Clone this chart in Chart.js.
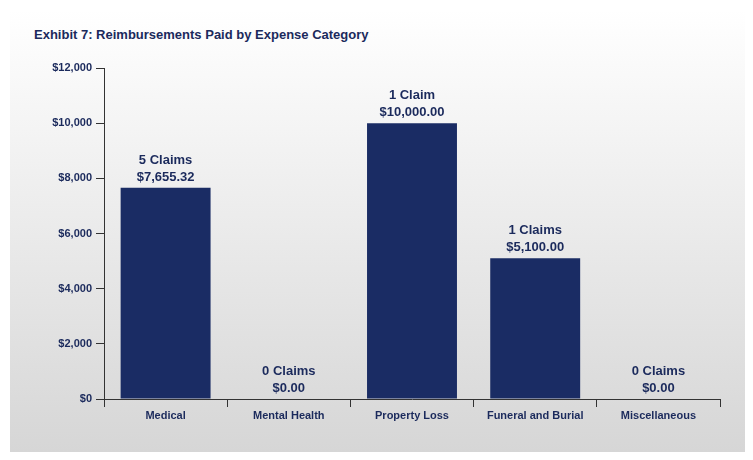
<!DOCTYPE html>
<html><head><meta charset="utf-8">
<script src="https://cdn.jsdelivr.net/npm/chart.js@4"></script>
<style>
html,body{margin:0;padding:0;background:#fff;}
#panel{position:absolute;left:10px;top:10px;width:735px;height:442px;background:linear-gradient(#ffffff,#d6d6d6);}
#title{position:absolute;left:34px;top:27px;font:bold 13px "Liberation Sans",Arial,sans-serif;color:#1b2a5c;}
#wrap{position:absolute;left:0;top:0;width:753px;height:460px;}
</style></head><body>
<div id="panel"></div>
<div id="title">Exhibit 7: Reimbursements Paid by Expense Category</div>
<div id="wrap"><canvas id="c" width="753" height="460"></canvas></div>
<script>
const categories=["Medical","Mental Health","Property Loss","Funeral and Burial","Miscellaneous"];
const values=[7655.32,0,10000,5100,0];
const claimLabels=["5 Claims","0 Claims","1 Claim","1 Claims","0 Claims"];
const amountLabels=["$7,655.32","$0.00","$10,000.00","$5,100.00","$0.00"];
const navy="#1b2a5c";
const labelPlugin={id:"lbl",afterDatasetsDraw(ch){
 const ctx=ch.ctx,meta=ch.getDatasetMeta(0);
 ctx.save();ctx.fillStyle=navy;ctx.font='bold 13px "Liberation Sans",Arial,sans-serif';ctx.textAlign="center";
 meta.data.forEach((b,i)=>{ctx.fillText(claimLabels[i],b.x,b.y-24);ctx.fillText(amountLabels[i],b.x,b.y-7);});
 ctx.restore();}};
new Chart(document.getElementById("c"),{type:"bar",
 data:{labels:categories,datasets:[{data:values,backgroundColor:"#1a2c64",barPercentage:0.73,categoryPercentage:1}]},
 options:{responsive:false,animation:false,
  layout:{padding:{left:10,right:33,top:68,bottom:10}},
  plugins:{legend:{display:false},tooltip:{enabled:false}},
  scales:{
   y:{min:0,max:12000,ticks:{stepSize:2000,color:navy,font:{family:"Liberation Sans",size:11,weight:"bold"},padding:4,
      callback:v=>"$"+v.toLocaleString("en-US")},
      grid:{drawOnChartArea:false,tickLength:8,color:"#333"},border:{color:"#333"},
      afterFit(s){s.width=94;}},
   x:{offset:true,grid:{offset:true,drawOnChartArea:false,tickLength:8,color:"#333"},border:{color:"#333"},
      ticks:{color:navy,font:{family:"Liberation Sans",size:11,weight:"bold"},padding:2},
      afterFit(s){s.height=51;}}
  }},plugins:[labelPlugin]});
</script></body></html>
